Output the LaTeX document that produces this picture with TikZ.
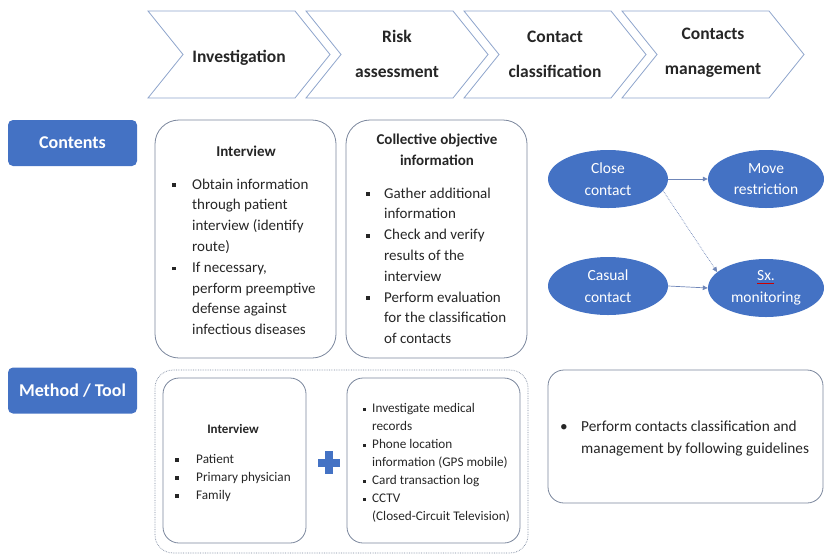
\documentclass[tikz,border=0pt]{standalone}
\usepackage{fontspec}
\setmainfont{Carlito}
\usetikzlibrary{shapes.geometric,arrows.meta}
\definecolor{myblue}{HTML}{4472C4}
\definecolor{chevline}{HTML}{8FA5CC}
\definecolor{boxline}{HTML}{7A869C}
\definecolor{txt}{HTML}{262626}
\definecolor{arr}{HTML}{6F86B8}
\newcommand\sqbul{\raisebox{2.2pt}{\rule{3.6pt}{3.6pt}}}
\newcommand\smbul{\raisebox{2pt}{\rule{3pt}{3pt}}}
\newcommand\bi[2]{\makebox[#1][l]{#2}}
\newcommand\ind[1]{\hspace*{#1}}
\tikzset{
  chev/.style={draw=chevline, line width=0.8pt, fill=white},
  chevtxt/.style={font=\bfseries\fontsize{17.5}{35}\selectfont, text=txt, align=center},
  lab/.style={fill=myblue, rounded corners=5pt, minimum width=129pt, minimum height=46pt, text=white, font=\bfseries\fontsize{18}{20}\selectfont, inner sep=0},
  rbox/.style={draw=boxline, line width=0.8pt, rounded corners=24pt},
  sbox/.style={draw=boxline, line width=0.8pt, rounded corners=16pt},
  head/.style={font=\bfseries\fontsize{15}{21}\selectfont, text=txt, align=center},
  body/.style={font=\fontsize{15}{20.8}\selectfont, text=txt, align=left, anchor=north west, inner sep=0},
  small/.style={font=\fontsize{13.2}{18}\selectfont, text=txt, align=left, anchor=north west, inner sep=0},
  ell/.style={ellipse, fill=myblue, minimum width=120pt, minimum height=58pt, text=white, font=\fontsize{15.5}{21.5}\selectfont, align=center, inner sep=0},
  conn/.style={draw=arr, line width=0.7pt, -{Triangle[length=5pt,width=4.5pt]}},
}
\begin{document}
\begin{tikzpicture}[x=1pt,y=-1pt]
\useasboundingbox (0,0) rectangle (824,555);
% chevrons
\foreach \i in {0,1,2,3}{
  \pgfmathsetmacro{\L}{148+158*\i}
  \draw[chev] (\L,11) -- ++(147,0) -- ++(35,43.5) -- ++(-35,43.5) -- ++(-147,0) -- ++(35,-43.5) -- cycle;
}
\node[chevtxt] (ch1) at (239,58) {Investigation};
\node[chevtxt] (ch2) at (397,54) {Risk\\assessment};
\node[chevtxt] (ch3) at (555,54) {Contact\\classification};
\node[chevtxt] (ch4) at (713,53) {Contacts\\management};
% row labels
\node[lab] (lc) at (72.5,143) {Contents};
\node[lab] (lm) at (72.5,390.5) {Method / Tool};
% contents boxes
\draw[rbox] (155,120) rectangle (336,358);
\node[head] (h1) at (246,151) {Interview};
\node[body] (b1) at (172,178.5) {%
\bi{20pt}{\sqbul}Obtain information\\\ind{20pt}through patient\\\ind{20pt}interview (identify\\\ind{20pt}route)\\
\bi{20pt}{\sqbul}If necessary,\\\ind{20pt}perform preemptive\\\ind{20pt}defense against\\\ind{20pt}infectious diseases};
\draw[rbox] (346,120) rectangle (527,358);
\node[head] (h2) at (437,150) {Collective objective\\information};
\node[body] (b2) at (366,187.5) {%
\bi{18pt}{\sqbul}Gather additional\\\ind{18pt}information\\
\bi{18pt}{\sqbul}Check and verify\\\ind{18pt}results of the\\\ind{18pt}interview\\
\bi{18pt}{\sqbul}Perform evaluation\\\ind{18pt}for the classification\\\ind{18pt}of contacts};
% ellipses
\node[ell] (cl) at (608,179) {Close\\contact};
\node[ell, minimum width=116pt] (mv) at (766,179) {Move\\restriction};
\node[ell] (ca) at (608,286) {Casual\\contact};
\node[ell, minimum width=116pt] (sx) at (766,288) {\makebox[0pt][l]{\color{red!80!black}\rule[-3pt]{17pt}{0.7pt}}Sx.\\monitoring};
\draw[conn] (cl.east) -- (mv.west);
\draw[conn] (ca.east) -- (sx.west);
\draw[conn, densely dotted] (cl.-12) -- (sx.162);
% method row
\draw[boxline, line width=0.7pt, densely dotted, rounded corners=18pt] (155,370) rectangle (528,553);
\draw[sbox] (163,378) rectangle (306,543);
\node[font=\bfseries\fontsize{13}{16}\selectfont, text=txt] (h3) at (233,429) {Interview};
\node[small] (b3) at (175,454.5) {%
\bi{21pt}{\sqbul}Patient\\
\bi{21pt}{\sqbul}Primary physician\\
\bi{21pt}{\sqbul}Family};
\fill[myblue] (325,451) rectangle (333,474);
\fill[myblue] (318,458.5) rectangle (340,466.5);
\draw[sbox] (347,378) rectangle (520,543);
\node[small] (b4) at (363,403.5) {%
\bi{9pt}{\smbul}Investigate medical\\\ind{9pt}records\\
\bi{9pt}{\smbul}Phone location\\\ind{9pt}information (GPS mobile)\\
\bi{9pt}{\smbul}Card transaction log\\
\bi{9pt}{\smbul}CCTV\\\ind{9pt}(Closed-Circuit Television)};
\draw[sbox] (548,370) rectangle (823,503);
\node[body, font=\fontsize{15.3}{22}\selectfont] (b5) at (560,420.5) {%
\bi{21pt}{\textbullet}Perform contacts classification and\\\ind{21pt}management by following guidelines};
\end{tikzpicture}
\end{document}
